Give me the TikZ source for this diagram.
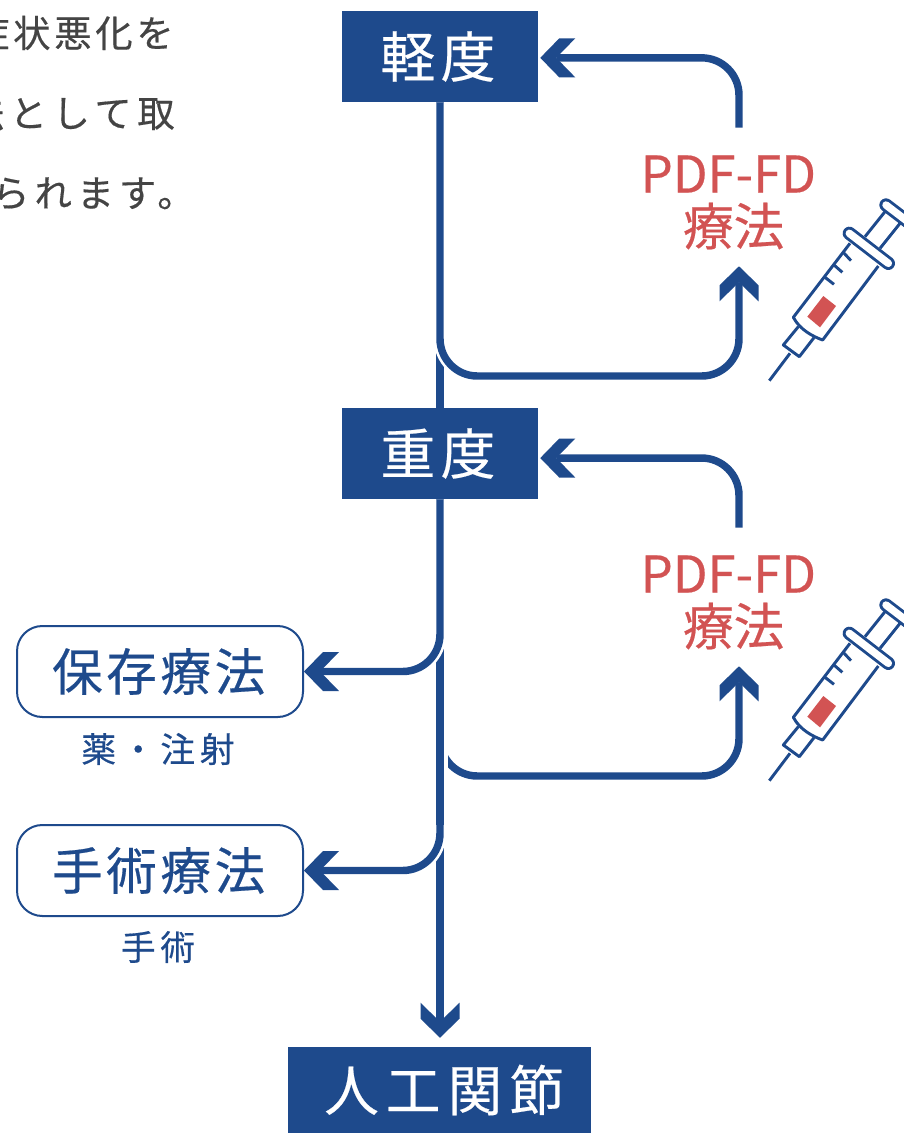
\documentclass[tikz,border=0pt]{standalone}
\usepackage{fontspec}
\setmainfont{Noto Sans CJK JP}[FakeBold=0.4]
\definecolor{deepblue}{HTML}{1E4A8C}
\definecolor{softred}{HTML}{D25353}
\definecolor{inkgray}{HTML}{444444}
\pgfdeclarearrow{
  name = Chevron,
  setup code = {
      \pgfarrowssettipend{0pt}
      \pgfarrowssetlineend{-12pt}
      \pgfarrowssetvisualbackend{-26.25pt}
      \pgfarrowssetbackend{-26.25pt}
    },
  drawing code = {
      \pgfpathmoveto{\pgfpoint{0pt}{0pt}}
      \pgfpathlineto{\pgfpoint{-14.25pt}{14.625pt}}
      \pgfpathlineto{\pgfpoint{-26.25pt}{14.625pt}}
      \pgfpathlineto{\pgfpoint{-12pt}{0pt}}
      \pgfpathlineto{\pgfpoint{-26.25pt}{-14.625pt}}
      \pgfpathlineto{\pgfpoint{-14.25pt}{-14.625pt}}
      \pgfpathclose
      \pgfusepathqfill
    }
}
\begin{document}
\begin{tikzpicture}
  [
    x = 0.75pt, y = -0.75pt,
    stage/.style = {fill = deepblue, text = white, inner sep = 0pt,
        minimum height = 68.25pt, font = \fontsize{41}{41}\selectfont\addfontfeature{LetterSpace=10}},
    care/.style = {draw = deepblue, line width = 1.5pt, rounded corners = 19pt, text = deepblue,
        inner sep = 0pt, minimum width = 214.5pt, minimum height = 68.25pt,
        font = \fontsize{38}{38}\selectfont\addfontfeature{LetterSpace=7}},
    caption/.style = {text = deepblue, inner sep = 0pt,
        font = \fontsize{26}{26}\selectfont\addfontfeature{LetterSpace=14}},
    remedy/.style = {text = softred, inner sep = 0pt, align = center,
        minimum height = 103.5pt, font = \fontsize{38}{39.5}\selectfont},
    note/.style = {text = inkgray, inner sep = 0pt, anchor = east,
        font = \fontsize{28}{28}\selectfont\addfontfeature{LetterSpace=#1}},
    flow/.style = {draw = deepblue, color = deepblue, line width = 5.6pt, rounded corners = 28pt},
    halo/.style = {draw = white, line width = 9.5pt, rounded corners = 28pt},
    syringe/.pic = {
        \begin{scope}[x = 0.25pt, y = -0.25pt, draw = deepblue, line width = 2.2pt, line join = round]
          \draw (345,140) -- (405,65);
          \draw (390,175) -- (450,100);
          \draw [line width = 10pt, line cap = round] (408,45) -- (480,100);
          \draw [line width = 5.6pt, line cap = round, white] (408,45) -- (480,100);
          \draw (300,160) -- (130,382) .. controls (150,420) and (190,440) .. (218,450) -- (385,228);
          \draw [line width = 10pt, line cap = round] (298,130) -- (415,220);
          \draw [line width = 5.6pt, line cap = round, white] (298,130) -- (415,220);
          \foreach \a/\b/\c/\d in {278/185/303/212, 252/225/277/247, 225/262/252/283}{
              \draw (\a,\b) -- (\c,\d);
            }
          \fill [softred] (220,318) -- (258,348) -- (210,412) -- (172,380) -- cycle;
          \draw (145,410) -- (100,465) -- (148,500) -- (192,443);
          \draw (58,572) -- (120,490);
        \end{scope}
      },
  ]

  \path [use as bounding box, clip] (0,0) rectangle (904,1133);

  \node [note=10] (notea) at (174,33) {症状悪化を};
  \node [note=15] (noteb) at (175,113) {法として取};
  \node [note=13] (notec) at (195,193) {げられます。};

  \node [stage, minimum width = 147pt] (mild) at (440,56.5) {軽度\hspace*{3pt}};
  \node [stage, minimum width = 147pt] (severe) at (440,453.5) {重度\hspace*{3pt}};
  \node [stage, minimum width = 227.25pt, minimum height = 64.5pt] (joint) at (439.5,1090)
  {\hspace*{7pt}\raisebox{-2pt}{\addfontfeature{LetterSpace=13}人工関節}};

  \node [care] (keep) at (160,671.5) {\raisebox{-1pt}{保存療法}\hspace*{2pt}};
  \node [care] (surgery) at (160,870.5) {\raisebox{-1pt}{手術療法}\hspace*{2pt}};
  \node [caption] (drug) at (158,749) {薬・注射};
  \node [caption] (hand) at (158,947) {手術};

  \node [remedy] (pdfa) at (739,197) {\rule{0pt}{36pt}PDF-FD\hspace*{16pt}\\療法\hspace*{8pt}};
  \node [remedy] (pdfb) at (739,597) {\rule{0pt}{36pt}PDF-FD\hspace*{16pt}\\療法\hspace*{8pt}};

  \coordinate (lowa) at (739,376);
  \coordinate (lowb) at (739,776);
  \coordinate (forkb) at (440,700);
  \coordinate (forkc) at (440,825);
  \coordinate (enda) at (500,376);
  \coordinate (endb) at (380,671.5);
  \coordinate (endc) at (380,870.5);

  \pic at (750,190) {syringe};
  \pic at (750,590) {syringe};

  \draw [flow, -Chevron, shorten > = 1.5pt] (pdfa.north) |- ([yshift = -1pt]mild.east);
  \draw [flow, -Chevron, shorten > = 1.5pt] (pdfb.north) |- ([yshift = -3.4pt]severe.east);

  \draw [flow] (mild.south) -- (severe.north);
  \draw [halo] (mild.south) |- (enda);
  \draw [flow, -Chevron] (mild.south) |- (lowa) -- (pdfa.south);

  \draw [flow, -Chevron] (forkb) |- (lowb) -- (pdfb.south);
  \draw [draw = white, line width = 11.25pt] (forkb) -- (forkc);
  \draw [flow, -Chevron, shorten > = 6.75pt] (severe.south) -- (severe.south |- joint.north);
  \draw [halo] (severe.south) |- (endb);
  \draw [flow, -Chevron] (severe.south) |- (keep.east);
  \draw [halo] (forkc) |- (endc);
  \draw [flow, -Chevron] (forkc) |- (surgery.east);

\end{tikzpicture}
\end{document}
